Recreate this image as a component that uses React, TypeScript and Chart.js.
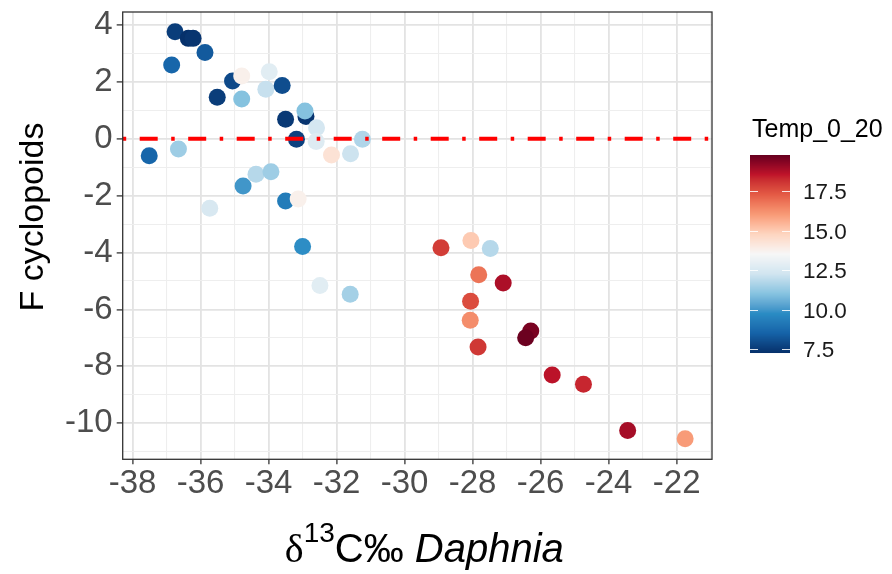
import React, { useEffect, useRef } from "react";
import { Chart, registerables } from "chart.js";

Chart.register(...registerables);

// δ13C of Daphnia (‰)
const delta13C = [
  -36.75, -36.36, -36.22, -35.87, -36.85, -35.06, -34.79, -33.98, -34.08, -33.6,
  -35.51, -34.79, -32.9, -32.93, -33.5, -32.59, -33.18, -32.6, -31.24, -32.15,
  -31.59, -37.51, -36.65, -34.37, -33.93, -34.75, -33.5, -33.13, -35.73, -33.0,
  -32.49, -31.6, -28.93, -28.05, -27.48, -27.82, -27.1, -28.06, -28.07, -26.29,
  -26.44, -27.84, -25.66, -24.74, -23.44, -21.75,
];

// F value for cyclopoids
const fCyclopoids = [
  3.76, 3.53, 3.53, 3.03, 2.59, 2.03, 2.21, 2.36, 1.74, 1.87,
  1.46, 1.4, 0.78, 0.98, 0.69, 0.39, -0.02, -0.1, -0.02, -0.57,
  -0.53, -0.6, -0.36, -1.25, -1.16, -1.66, -2.19, -2.12, -2.44, -3.79,
  -5.16, -5.47, -3.83, -3.58, -3.86, -4.78, -5.07, -5.71, -6.38, -6.76,
  -7.0, -7.32, -8.31, -8.63, -10.26, -10.55,
];

// Mean water temperature, 0–20 m
const temp0to20 = [
  7.6, 7.3, 7.4, 8.3, 8.6, 7.9, 13.8, 12.8, 12.1, 8.0,
  7.6, 11.0, 7.4, 11.0, 7.5, 12.4, 7.7, 12.7, 11.7, 14.3,
  12.2, 8.6, 11.4, 11.8, 11.4, 10.0, 9.3, 13.8, 12.5, 9.8,
  12.8, 11.5, 17.9, 15.0, 11.8, 16.8, 18.8, 17.6, 16.3, 19.5,
  19.7, 18.0, 18.6, 18.3, 18.9, 16.0,
];

const xTicks = [-38, -36, -34, -32, -30, -28, -26, -24, -22];
const yTicks = [-10, -8, -6, -4, -2, 0, 2, 4];
const legendTicks = [7.5, 10.0, 12.5, 15.0, 17.5];
const xLimits = [-38.29, -20.96];
const yLimits = [-11.27, 4.457];
const tempLimits = [7.27, 19.78];
const referenceLine = 0;

// Red–blue diverging palette, low (blue) to high (red)
const rdBu = [
  "#06306a", "#1563a8", "#2a8cc4", "#86c3e0", "#d1e5f0", "#f7f7f7",
  "#fdd5c0", "#f89a76", "#e45a45", "#c0142a", "#67001f",
];

const SANS = '"Liberation Sans", Arial, Helvetica, sans-serif';

// ---- Lab colour interpolation ----
type Lab = [number, number, number];
function hexToLab(hex: string): Lab {
  const lin = (c: number) => {
    c /= 255;
    return c <= 0.04045 ? c / 12.92 : Math.pow((c + 0.055) / 1.055, 2.4);
  };
  const r = lin(parseInt(hex.slice(1, 3), 16));
  const g = lin(parseInt(hex.slice(3, 5), 16));
  const b = lin(parseInt(hex.slice(5, 7), 16));
  const X = (0.4124 * r + 0.3576 * g + 0.1805 * b) / 0.95047;
  const Y = 0.2126 * r + 0.7152 * g + 0.0722 * b;
  const Z = (0.0193 * r + 0.1192 * g + 0.9505 * b) / 1.08883;
  const f = (t: number) => (t > 0.008856 ? Math.cbrt(t) : 7.787 * t + 16 / 116);
  const fx = f(X), fy = f(Y), fz = f(Z);
  return [116 * fy - 16, 500 * (fx - fy), 200 * (fy - fz)];
}
function labToRgb([L, a, bb]: Lab): string {
  const fy = (L + 16) / 116;
  const fx = fy + a / 500;
  const fz = fy - bb / 200;
  const inv = (t: number) => (t * t * t > 0.008856 ? t * t * t : (t - 16 / 116) / 7.787);
  const X = inv(fx) * 0.95047, Y = inv(fy), Z = inv(fz) * 1.08883;
  const out = (c: number) => {
    const v = c <= 0.0031308 ? 12.92 * c : 1.055 * Math.pow(c, 1 / 2.4) - 0.055;
    return Math.round(Math.max(0, Math.min(1, v)) * 255);
  };
  const r = out(3.2406 * X - 1.5372 * Y - 0.4986 * Z);
  const g = out(-0.9689 * X + 1.8758 * Y + 0.0415 * Z);
  const b = out(0.0557 * X - 0.204 * Y + 1.057 * Z);
  return `rgb(${r},${g},${b})`;
}
const paletteLab = rdBu.map(hexToLab);
function tempColor(t: number): string {
  const p = Math.max(0, Math.min(1, (t - tempLimits[0]) / (tempLimits[1] - tempLimits[0])));
  const s = p * (paletteLab.length - 1);
  const i = Math.min(paletteLab.length - 2, Math.floor(s));
  const f = s - i;
  const A = paletteLab[i], B = paletteLab[i + 1];
  return labToRgb([A[0] + (B[0] - A[0]) * f, A[1] + (B[1] - A[1]) * f, A[2] + (B[2] - A[2]) * f]);
}

// major breaks plus minor breaks halfway between them
function withMinor(major: number[], lo: number, hi: number): number[] {
  const step = major[1] - major[0];
  const all: number[] = [];
  for (let v = major[0] - step; v <= major[major.length - 1] + step + 1e-9; v += step / 2) {
    if (v >= lo && v <= hi) all.push(Math.round(v * 1000) / 1000);
  }
  return all;
}
const isMajor = (list: number[], v: number) => list.some((m) => Math.abs(m - v) < 1e-6);

const chromePlugin = {
  id: "ggChrome",
  beforeDraw(chart: any) {
    const { ctx } = chart;
    ctx.save();
    ctx.fillStyle = "#ffffff";
    ctx.fillRect(0, 0, chart.width, chart.height);
    ctx.restore();
  },
  afterDatasetsDraw(chart: any) {
    const { ctx, chartArea } = chart;
    const yScale = chart.scales.y;
    const y0 = yScale.getPixelForValue(referenceLine);
    ctx.save();
    // red dot-dash reference line
    ctx.strokeStyle = "#ff0000";
    ctx.lineWidth = 4;
    ctx.setLineDash([3.5, 13.5, 18, 13.5]);
    ctx.beginPath();
    ctx.moveTo(chartArea.left, y0);
    ctx.lineTo(chartArea.right, y0);
    ctx.stroke();
    ctx.setLineDash([]);
    // panel border
    ctx.strokeStyle = "#333333";
    ctx.lineWidth = 1.3;
    ctx.strokeRect(chartArea.left, chartArea.top, chartArea.right - chartArea.left, chartArea.bottom - chartArea.top);
    ctx.restore();
  },
  afterDraw(chart: any) {
    const { ctx, chartArea } = chart;
    ctx.save();
    ctx.fillStyle = "#000000";

    // y axis title
    ctx.save();
    ctx.translate(43, 217);
    ctx.rotate(-Math.PI / 2);
    ctx.font = `34px ${SANS}`;
    ctx.textAlign = "center";
    ctx.textBaseline = "alphabetic";
    ctx.fillText("F cyclopoids", 0, 0);
    ctx.restore();

    // x axis title: δ^13 C‰ Daphnia
    const base = 562;
    const fDelta = '40px "Liberation Serif", "DejaVu Serif", serif';
    const fSup = `28px ${SANS}`;
    const fMain = `40px ${SANS}`;
    const fItal = `italic 40px ${SANS}`;
    ctx.font = fDelta; const w1 = ctx.measureText("δ").width;
    ctx.font = fSup; const w2 = ctx.measureText("13").width;
    ctx.font = fMain; const w3 = ctx.measureText("C‰").width; const ws = ctx.measureText(" ").width;
    ctx.font = fItal; const w4 = ctx.measureText("Daphnia").width;
    const total = w1 + w2 + w3 + ws + w4;
    let x = (chartArea.left + chartArea.right) / 2 - total / 2 + 7;
    ctx.textAlign = "left";
    ctx.textBaseline = "alphabetic";
    ctx.font = fDelta; ctx.fillText("δ", x, base); x += w1;
    ctx.font = fSup; ctx.fillText("13", x, base - 20); x += w2;
    ctx.font = fMain; ctx.fillText("C‰", x, base); x += w3 + ws;
    ctx.font = fItal; ctx.fillText("Daphnia", x, base);

    // colour bar legend
    const barX = 750, barW = 40, barTop = 155, barH = 198;
    const vToY = (v: number) => barTop + ((tempLimits[1] - v) / (tempLimits[1] - tempLimits[0])) * barH;
    for (let i = 0; i < barH; i++) {
      const v = tempLimits[1] - ((i + 0.5) / barH) * (tempLimits[1] - tempLimits[0]);
      ctx.fillStyle = tempColor(v);
      ctx.fillRect(barX, barTop + i, barW, 1.02);
    }
    ctx.strokeStyle = "rgba(255,255,255,0.85)";
    ctx.lineWidth = 1;
    ctx.font = `22.5px ${SANS}`;
    ctx.textAlign = "left";
    ctx.textBaseline = "middle";
    for (const t of legendTicks) {
      const ty = Math.round(vToY(t)) + 0.5;
      ctx.beginPath();
      ctx.moveTo(barX, ty); ctx.lineTo(barX + 8, ty);
      ctx.moveTo(barX + barW - 8, ty); ctx.lineTo(barX + barW, ty);
      ctx.stroke();
      ctx.fillStyle = "#1a1a1a";
      ctx.fillText(t.toFixed(1), 803, ty + 1);
    }
    ctx.fillStyle = "#000000";
    ctx.textBaseline = "alphabetic";
    ctx.font = `25px ${SANS}`;
    ctx.fillText("Temp_0_20", 752, 137);
    ctx.restore();
  },
};

export default function App() {
  const canvasRef = useRef<HTMLCanvasElement | null>(null);

  useEffect(() => {
    if (!canvasRef.current) return;
    const points = delta13C.map((x, i) => ({ x, y: fCyclopoids[i] }));
    const colors = temp0to20.map(tempColor);
    const xGrid = withMinor(xTicks, xLimits[0], xLimits[1]);
    const yGrid = withMinor(yTicks, yLimits[0], yLimits[1]);

    const gridColor = (list: number[]) => (c: any) => (isMajor(list, c.tick.value) ? "#e3e3e3" : "#eeeeee");
    const gridWidth = (list: number[]) => (c: any) => (isMajor(list, c.tick.value) ? 1.8 : 1.1);
    const tickColor = (list: number[]) => (c: any) => (isMajor(list, c.tick.value) ? "#333333" : "rgba(0,0,0,0)");

    const chart = new Chart(canvasRef.current, {
      type: "scatter",
      data: {
        datasets: [
          {
            data: points,
            backgroundColor: colors,
            pointRadius: 8.5,
            pointHoverRadius: 8.5,
            borderWidth: 0,
          },
        ],
      },
      options: {
        responsive: false,
        animation: false,
        events: [],
        layout: { padding: { left: 0, right: 180, top: 12, bottom: 0 } },
        plugins: { legend: { display: false }, tooltip: { enabled: false } },
        scales: {
          x: {
            type: "linear",
            min: xLimits[0],
            max: xLimits[1],
            afterBuildTicks: (axis: any) => {
              axis.ticks = xGrid.map((value) => ({ value }));
            },
            afterFit: (axis: any) => {
              axis.height = 574 - 459.3;
              axis.paddingLeft = 0;
              axis.paddingRight = 0;
            },
            border: { display: false },
            grid: {
              color: gridColor(xTicks),
              lineWidth: gridWidth(xTicks),
              tickColor: tickColor(xTicks),
              tickLength: 5,
              tickWidth: 1.3,
            },
            ticks: {
              autoSkip: false,
              maxRotation: 0,
              padding: 3,
              color: "#4d4d4d",
              font: { family: SANS, size: 33, lineHeight: 1 },
              callback: (v: any) => (isMajor(xTicks, Number(v)) ? String(v) : ""),
            },
          },
          y: {
            type: "linear",
            min: yLimits[0],
            max: yLimits[1],
            afterBuildTicks: (axis: any) => {
              axis.ticks = yGrid.map((value) => ({ value }));
            },
            afterFit: (axis: any) => {
              axis.width = 122.7;
              axis.paddingTop = 0;
              axis.paddingBottom = 0;
            },
            border: { display: false },
            grid: {
              color: gridColor(yTicks),
              lineWidth: gridWidth(yTicks),
              tickColor: tickColor(yTicks),
              tickLength: 6,
              tickWidth: 1.3,
            },
            ticks: {
              autoSkip: false,
              padding: 4,
              color: "#4d4d4d",
              font: { family: SANS, size: 33, lineHeight: 1 },
              callback: (v: any) => (isMajor(yTicks, Number(v)) ? String(v) : ""),
            },
          },
        },
      },
      plugins: [chromePlugin],
    } as any);

    return () => chart.destroy();
  }, []);

  return (
    <div style={{ position: "fixed", left: 0, top: 0, width: 892, height: 574, background: "#fff" }}>
      <canvas ref={canvasRef} width={892} height={574} style={{ display: "block" }} />
    </div>
  );
}
